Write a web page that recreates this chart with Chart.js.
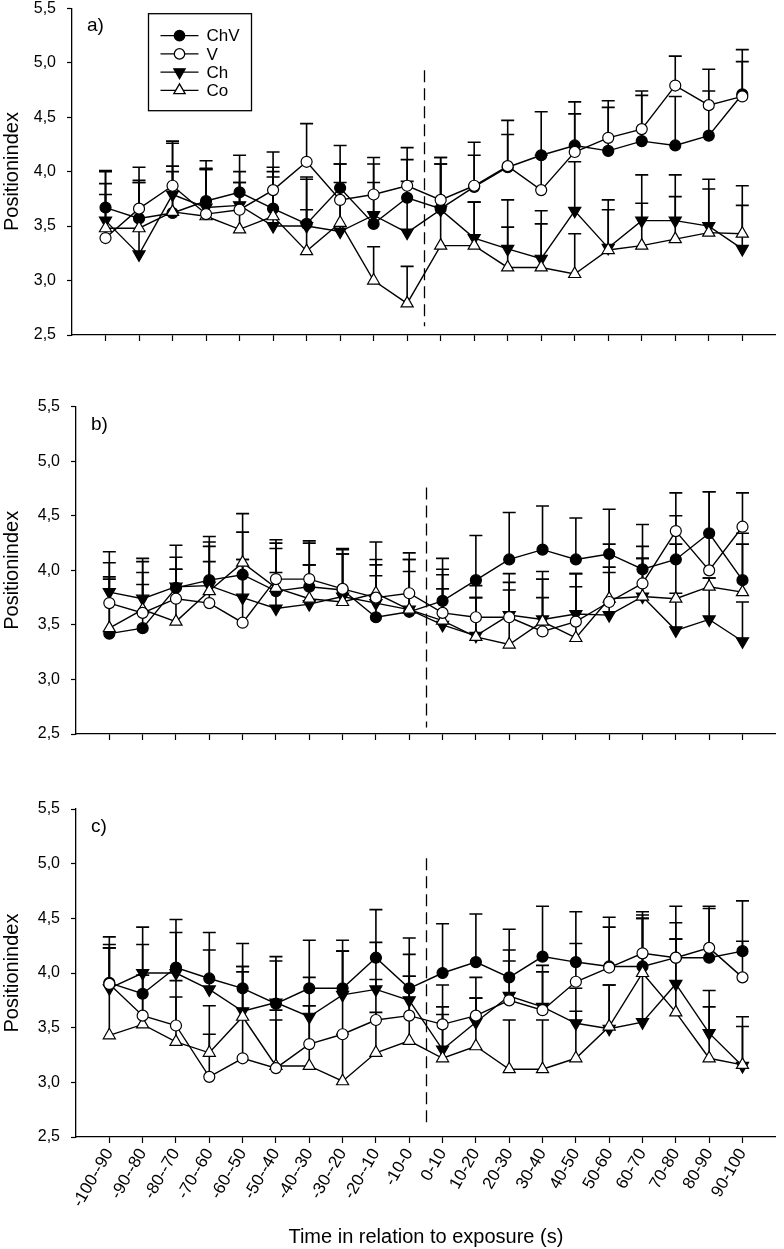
<!DOCTYPE html>
<html><head><meta charset="utf-8">
<script src="https://cdn.jsdelivr.net/npm/chart.js@4.4.1/dist/chart.umd.min.js"></script>
<style>
html,body{margin:0;padding:0;background:#fff;}
#wrap{position:relative;width:784px;height:1249px;overflow:hidden;background:#fff;}
canvas{position:absolute;left:0;}
</style></head><body>
<div id="wrap">
<canvas id="ca" width="784" height="345" style="top:0px"></canvas>
<canvas id="cb" width="784" height="350" style="top:395px"></canvas>
<canvas id="cc" width="784" height="454" style="top:795px"></canvas>
</div>
<script>
// ---------- data ----------
const timeLabels = ['-100--90','-90--80','-80--70','-70--60','-60--50','-50--40','-40--30','-30--20','-20--10','-10-0',
                    '0-10','10-20','20-30','30-40','40-50','50-60','60-70','70-80','80-90','90-100'];
const yTickValues = [2.5, 3.0, 3.5, 4.0, 4.5, 5.0, 5.5];
const seriesNames = ['ChV', 'V', 'Ch', 'Co'];

// panel a) means and upper error limits
const aChV = [3.67,3.57,3.62,3.73,3.81,3.66,3.52,3.85,3.52,3.76, 3.66,3.86,4.04,4.15,4.24,4.19,4.28,4.24,4.33,4.71];
const aV   = [3.39,3.66,3.87,3.61,3.65,3.83,4.09,3.74,3.79,3.87, 3.74,3.87,4.05,3.83,4.18,4.31,4.39,4.79,4.61,4.69];
const aCh  = [3.55,3.24,3.79,3.67,3.69,3.50,3.50,3.45,3.60,3.44, 3.65,3.39,3.29,3.20,3.64,3.30,3.55,3.55,3.50,3.29];
const aCo  = [3.48,3.48,3.63,3.59,3.47,3.59,3.27,3.53,3.00,2.79, 3.32,3.32,3.12,3.12,3.06,3.28,3.32,3.38,3.44,3.43];
const aChVErr = [4.01,4.04,4.05,4.10,4.15,3.95,3.93,4.24,3.90,4.11, 4.07,4.15,4.34,4.55,4.64,4.59,4.70,4.69,4.74,5.12];
const aVErr   = [3.79,3.90,4.28,4.03,4.00,4.18,4.44,4.07,4.13,4.22, 4.13,4.27,4.47,4.15,4.53,4.65,4.74,5.06,4.94,5.01];
const aChErr  = [3.89,3.92,4.26,4.02,3.90,4.00,3.95,3.90,4.07,3.91, 4.07,3.72,3.74,3.64,4.09,3.65,3.97,3.97,3.84,3.69];
const aCoErr  = [4.00,3.90,4.00,4.02,3.90,4.04,3.65,4.07,3.31,3.13, 4.13,3.72,3.49,3.52,3.43,3.74,3.71,3.77,3.93,3.87];

// panel b)
const bChV = [3.42,3.47,3.84,3.91,3.96,3.81,3.85,3.82,3.57,3.62, 3.72,3.91,4.10,4.19,4.10,4.15,4.01,4.10,4.34,3.91];
const bV   = [3.70,3.61,3.74,3.70,3.52,3.92,3.92,3.83,3.75,3.79, 3.61,3.57,3.57,3.44,3.53,3.71,3.88,4.36,4.00,4.40];
const bCh  = [3.80,3.74,3.85,3.86,3.75,3.65,3.69,3.76,3.70,3.64, 3.50,3.40,3.59,3.55,3.60,3.59,3.76,3.45,3.55,3.35];
const bCo  = [3.47,3.64,3.53,3.81,4.07,3.84,3.74,3.71,3.79,3.64, 3.54,3.39,3.32,3.53,3.38,3.74,3.76,3.74,3.85,3.80];
const bChVErr = [3.92,3.87,4.12,4.26,4.35,4.20,4.25,4.19,3.95,3.99, 4.11,4.32,4.53,4.59,4.48,4.56,4.42,4.50,4.72,4.24];
const bVErr   = [4.07,3.98,4.01,4.08,4.10,4.28,4.27,4.20,4.10,4.16, 4.01,3.86,3.97,3.92,3.85,4.03,4.22,4.71,4.72,4.71];
const bChErr  = [4.17,4.11,4.23,4.22,4.10,3.98,4.05,4.15,4.05,4.10, 3.83,3.75,3.89,3.99,3.97,3.98,4.11,3.79,3.93,3.71];
const bCoErr  = [3.94,4.08,4.01,4.31,4.52,4.25,4.05,4.15,4.26,4.10, 3.96,3.75,3.82,3.75,3.97,4.24,4.11,4.24,3.93,4.34];

// panel c)
const cChV = [3.91,3.81,4.05,3.95,3.86,3.72,3.86,3.86,4.14,3.86, 4.00,4.10,3.96,4.15,4.10,4.06,4.06,4.14,4.14,4.20];
const cV   = [3.90,3.61,3.52,3.05,3.22,3.13,3.35,3.44,3.57,3.61, 3.53,3.61,3.75,3.66,3.92,4.05,4.18,4.14,4.23,3.96];
const cCh  = [3.86,4.00,4.00,3.85,3.65,3.73,3.60,3.80,3.85,3.75, 3.30,3.55,3.79,3.69,3.54,3.49,3.55,3.90,3.45,3.15];
const cCo  = [3.43,3.53,3.37,3.27,3.60,3.15,3.15,3.01,3.27,3.38, 3.22,3.33,3.12,3.12,3.22,3.51,4.00,3.64,3.22,3.16];
const cChVErr = [4.26,4.26,4.49,4.37,4.27,4.15,4.30,4.30,4.58,4.32, 4.45,4.54,4.40,4.61,4.56,4.51,4.53,4.61,4.59,4.66];
const cVErr   = [4.33,3.98,3.78,3.44,4.01,3.57,3.70,4.20,3.94,3.97, 3.89,3.96,4.11,4.01,4.27,4.42,4.56,4.46,4.61,4.29];
const cChErr  = [4.23,4.42,4.37,4.21,4.06,4.11,3.96,4.20,4.28,4.17, 3.62,3.77,4.21,4.07,3.65,3.89,4.50,4.31,3.69,3.51];
const cCoErr  = [4.23,3.98,3.93,3.70,4.06,3.66,3.70,3.44,3.64,3.97, 3.69,3.77,3.57,3.57,3.86,3.89,4.50,4.31,3.84,3.60];

// exposure marker (between -10-0 and 0-10), vertical extent per panel
const exposureX = 10.5;
const aExposure = [2.58, 4.93];
const bExposure = [2.56, 4.76];
const cExposure = [2.59, 5.05];

// ---------- styling ----------
const FONT = "'Liberation Sans', Arial, Helvetica, sans-serif";
const styles = {
  ChV: {pointStyle:'circle',   radius:5.5, rotation:0,   fill:'#000', order:3},
  V:   {pointStyle:'circle',   radius:5.5, rotation:0,   fill:'#fff', order:0},
  Ch:  {pointStyle:'triangle', radius:7,   rotation:180, fill:'#000', order:2},
  Co:  {pointStyle:'triangle', radius:7,   rotation:0,   fill:'#fff', order:1}
};

function toPts(vals){ return vals.map((v,i)=>({x:i+1, y:v})); }

function makeDatasets(vals, errs){
  return seriesNames.map((n,k)=>{
    const s = styles[n];
    return {
      label:n, data:toPts(vals[k]), errTop:errs[k], order:s.order,
      borderColor:'#000', borderWidth:1.4, tension:0, fill:false,
      pointStyle:s.pointStyle, pointRadius:s.radius, pointHoverRadius:s.radius,
      pointRotation:s.rotation, pointBackgroundColor:s.fill,
      pointBorderColor:'#000', pointBorderWidth:1.2
    };
  });
}

const errPlugin = {
  id:'errbars',
  beforeDatasetsDraw(chart, args, opts){
    const {ctx, scales:{x,y}} = chart;
    ctx.save();
    // dashed exposure line
    ctx.strokeStyle = '#000'; ctx.lineWidth = 1.3;
    ctx.setLineDash([12,6]);
    const ex = Math.round(x.getPixelForValue(exposureX)) + 0.5;
    ctx.beginPath();
    ctx.moveTo(ex, y.getPixelForValue(opts.exposure[1]));
    ctx.lineTo(ex, y.getPixelForValue(opts.exposure[0]));
    ctx.stroke();
    ctx.setLineDash([]);
    // error bars (upper only)
    ctx.lineWidth = 1.6;
    chart.data.datasets.forEach(ds=>{
      ds.data.forEach((p,i)=>{
        const px = x.getPixelForValue(p.x);
        const py = y.getPixelForValue(p.y);
        const pt = y.getPixelForValue(ds.errTop[i]);
        ctx.beginPath();
        ctx.moveTo(px, py); ctx.lineTo(px, pt);
        ctx.moveTo(px-6.5, pt); ctx.lineTo(px+6.5, pt);
        ctx.stroke();
      });
    });
    ctx.restore();
  },
  afterDraw(chart, args, opts){
    const {ctx, chartArea} = chart;
    ctx.save();
    ctx.fillStyle = '#000';
    ctx.font = '19px ' + FONT;
    ctx.textBaseline = 'middle';
    ctx.textAlign = 'left';
    ctx.fillText(opts.tag, chartArea.left + 15, chartArea.top + 18);
    if (opts.legend){
      const L = chartArea.left + 76.5, T = chartArea.top + 5.5;
      ctx.strokeStyle = '#000'; ctx.lineWidth = 1.3;
      ctx.strokeRect(L, T, 103, 97);
      ctx.font = '17px ' + FONT;
      seriesNames.forEach((n,k)=>{
        const yy = T + 22 + k*18.2;
        ctx.beginPath(); ctx.moveTo(L+12, yy); ctx.lineTo(L+50, yy);
        ctx.lineWidth = 1.3; ctx.stroke();
        const s = styles[n];
        ctx.fillStyle = s.fill;
        Chart.helpers.drawPoint(ctx, {pointStyle:s.pointStyle, rotation:s.rotation,
          radius: s.pointStyle==='circle'?5.2:6.5, borderWidth:1.2}, L+31, yy);
        ctx.fillStyle = '#000';
        ctx.fillText(n, L+58, yy+1);
      });
    }
    ctx.restore();
  }
};

function makeOptions(p){
  return {
    responsive:false, animation:false, events:[],
    layout:{padding:p.pad},
    plugins:{legend:{display:false}, tooltip:{enabled:false},
      errbars:{exposure:p.exposure, tag:p.tag, legend:p.legend}},
    scales:{
      x:{type:'linear', min:0, max:21,
        afterBuildTicks:s=>{ s.ticks = timeLabels.map((l,i)=>({value:i+1})); },
        afterFit:s=>{ s.height = p.xh; s.paddingLeft = 0; s.paddingRight = 0; },
        ticks:{display:p.showX, autoSkip:false, maxRotation:60, minRotation:60, padding:2,
          color:'#000', font:{family:FONT, size:17}, callback:v=>timeLabels[v-1] || ''},
        grid:{drawOnChartArea:false, drawTicks:true, tickLength:6, tickColor:'#000', tickWidth:1.2},
        border:{display:true, color:'#000', width:1.3},
        title:{display:p.showX, text:'Time in relation to exposure (s)', color:'#000',
          font:{family:FONT, size:20}, padding:0}
      },
      y:{min:2.5, max:5.5,
        afterBuildTicks:s=>{ s.ticks = yTickValues.map(v=>({value:v})); },
        afterFit:s=>{ s.width = p.yw; s.paddingTop = 0; s.paddingBottom = 0; },
        ticks:{padding:11, color:'#000', font:{family:FONT, size:16},
          callback:v=>Number(v).toFixed(1).replace('.', ',')},
        grid:{drawOnChartArea:false, drawTicks:true, tickLength:5, tickColor:'#000', tickWidth:1.2},
        border:{display:true, color:'#000', width:1.3},
        title:{display:true, text:'Positionindex', color:'#000', font:{family:FONT, size:20}, padding:0}
      }
    }
  };
}

new Chart(document.getElementById('ca'), {
  type:'line',
  data:{datasets:makeDatasets([aChV,aV,aCh,aCo],[aChVErr,aVErr,aChErr,aCoErr])},
  options:makeOptions({pad:{top:6,right:4,left:0,bottom:0}, xh:10, yw:72, showX:false,
    exposure:aExposure, tag:'a)', legend:true}),
  plugins:[errPlugin]
});
new Chart(document.getElementById('cb'), {
  type:'line',
  data:{datasets:makeDatasets([bChV,bV,bCh,bCo],[bChVErr,bVErr,bChErr,bCoErr])},
  options:makeOptions({pad:{top:11.7,right:0,left:0,bottom:0}, xh:11, yw:76, showX:false,
    exposure:bExposure, tag:'b)', legend:false}),
  plugins:[errPlugin]
});
new Chart(document.getElementById('cc'), {
  type:'line',
  data:{datasets:makeDatasets([cChV,cV,cCh,cCo],[cChVErr,cVErr,cChErr,cCoErr])},
  options:makeOptions({pad:{top:14,right:0,left:0,bottom:0}, xh:112, yw:76, showX:true,
    exposure:cExposure, tag:'c)', legend:false}),
  plugins:[errPlugin]
});
</script>
</body></html>
